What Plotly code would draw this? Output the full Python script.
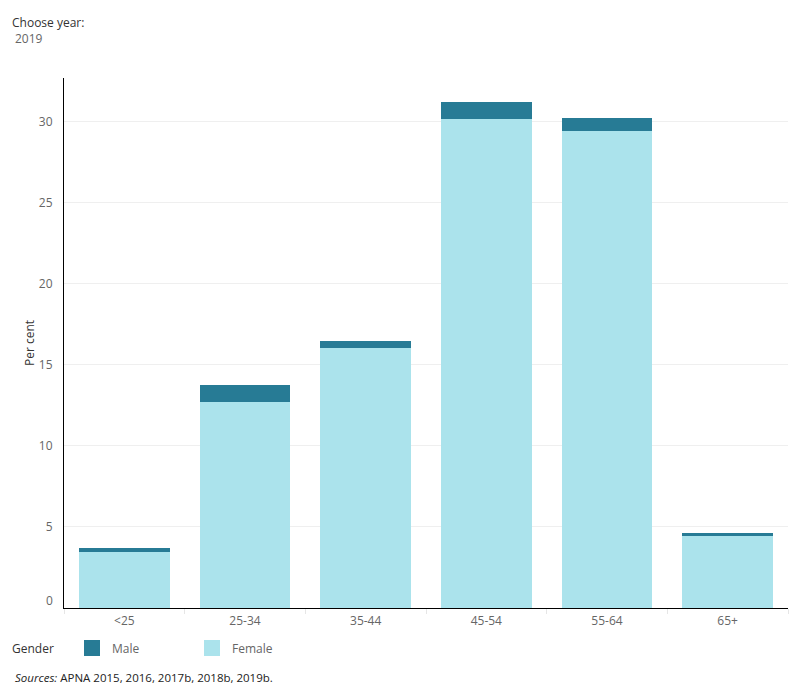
import plotly.graph_objects as go

categories = ["<25", "25-34", "35-44", "45-54", "55-64", "65+"]
female = [3.45, 12.7, 16.05, 30.2, 29.45, 4.45]
male = [0.25, 1.05, 0.43, 1.0, 0.8, 0.2]
y_ticks = [5, 10, 15, 20, 25, 30]

MALE_C = "#277b95"
FEMALE_C = "#abe3ec"
FONT = "Open Sans"

fig = go.Figure()
fig.add_trace(go.Bar(x=categories, y=female, name="Female", marker_color=FEMALE_C,
                     marker_line_width=0, showlegend=False))
fig.add_trace(go.Bar(x=categories, y=male, name="Male", marker_color=MALE_C,
                     marker_line_width=0, showlegend=False))
# legend-only entries (larger square swatches)
fig.add_trace(go.Scatter(x=[None], y=[None], mode="markers", name="Male",
                         marker=dict(symbol="square", size=16, color=MALE_C), legendrank=1))
fig.add_trace(go.Scatter(x=[None], y=[None], mode="markers", name="Female",
                         marker=dict(symbol="square", size=16, color=FEMALE_C), legendrank=2))

W, H = 800, 700
L, R, T, B = 64, 12, 78, 92
ph = H - T - B
pw = W - L - R

def px_to_paper_y(py):
    return (H - B - py) / ph

def px_to_paper_x(px):
    return (px - L) / pw

fig.update_layout(
    width=W, height=H,
    margin=dict(l=L, r=R, t=T, b=B, pad=0, autoexpand=False),
    barmode="stack", bargap=0.25,
    plot_bgcolor="white", paper_bgcolor="white",
    font=dict(family=FONT, size=11, color="#666666"),
    hovermode=False,
    showlegend=True,
    legend=dict(
        orientation="h",
        x=px_to_paper_x(72), xanchor="left",
        y=px_to_paper_y(648), yanchor="middle",
        font=dict(size=12, color="#666666"),
        entrywidth=75, entrywidthmode="pixels",
        itemwidth=30,
        traceorder="normal",
    ),
    xaxis=dict(
        showline=True, linecolor="black", linewidth=1,
        showgrid=False, zeroline=False,
        ticks="outside", tickson="boundaries", ticklen=5, tickcolor="#e6e6e6",
        tickfont=dict(size=12, color="#666666"),
        ticklabelstandoff=2,
        fixedrange=True, automargin=False,
    ),
    yaxis=dict(
        range=[0, 32.7],
        tickvals=y_ticks,
        showline=True, linecolor="black", linewidth=1,
        showgrid=True, gridcolor="#efefef", gridwidth=1,
        zeroline=False,
        ticks="", ticklabelstandoff=8,
        tickfont=dict(size=12, color="#666666"),
        title=dict(text="Per cent", font=dict(size=12, color="#333333"), standoff=1),
        fixedrange=True, automargin=False,
    ),
)

# zero label (nudged up as in reference)
fig.add_annotation(xref="paper", yref="y", x=0, y=0, xanchor="right", yanchor="middle",
                   xshift=-9, yshift=8, text="0", showarrow=False,
                   font=dict(size=12, color="#666666"))

fig.add_annotation(xref="paper", yref="paper", x=px_to_paper_x(10), y=px_to_paper_y(648),
                   xanchor="left", yanchor="middle", text="Gender", showarrow=False,
                   font=dict(size=12, color="#333333"))
fig.add_annotation(xref="paper", yref="paper", x=px_to_paper_x(10), y=px_to_paper_y(22),
                   xanchor="left", yanchor="middle", text="Choose year:", showarrow=False,
                   font=dict(size=12, color="#333333"))
fig.add_annotation(xref="paper", yref="paper", x=px_to_paper_x(13), y=px_to_paper_y(39),
                   xanchor="left", yanchor="middle", text="2019", showarrow=False,
                   font=dict(size=12, color="#666666"))
fig.add_annotation(xref="paper", yref="paper", x=px_to_paper_x(13), y=px_to_paper_y(677),
                   xanchor="left", yanchor="middle",
                   text="<i>Sources:</i> APNA 2015, 2016, 2017b, 2018b, 2019b.", showarrow=False,
                   font=dict(size=11.5, color="#222222"))

fig.write_html("out.html")
